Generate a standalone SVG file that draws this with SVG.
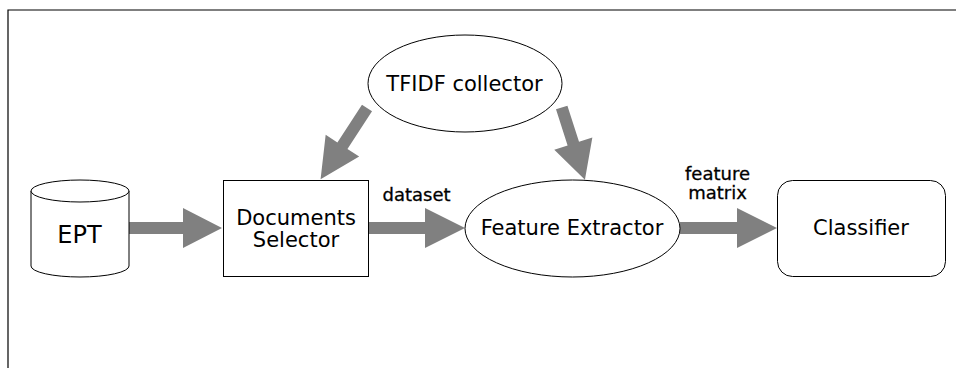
<svg xmlns="http://www.w3.org/2000/svg" width="956" height="368" viewBox="0 0 956 368">
  <style>
    .shape { fill: #ffffff; stroke: #000000; stroke-width: 1; }
    .frame { fill: none; stroke: #000000; stroke-width: 1.2; }
    .arrow { fill: #808080; stroke: none; }
    .label { font-family: "DejaVu Sans", Verdana, sans-serif; font-size: 21px; fill: #000000; text-anchor: middle; }
    .edge-label { font-family: "DejaVu Sans", Verdana, sans-serif; font-size: 18px; fill: #000000; text-anchor: middle; stroke: #000000; stroke-width: 0.3; }
  </style>
  <defs>
    <!-- block arrow pointing along +x: shaft 12 wide, head 40 wide and 40 long -->
    <path id="arrow85" d="M0,-6 H45 V-20 L85,0 L45,20 V6 H0 Z"/>
    <path id="arrow76" d="M0,-6 H38 V-20 L76,0 L38,20 V6 H0 Z"/>
  </defs>

  <rect x="0" y="0" width="956" height="368" fill="#ffffff"/>

  <!-- frame edges -->
  <path class="frame" d="M8,368 V10 H956"/>

  <!-- connectors -->
  <g id="connectors">
    <path class="arrow" d="M128,222 H183 V208 L222,228 L183,248 V234 H128 Z"/>
    <path class="arrow" d="M368,222 H425 V208 L465,228 L425,248 V234 H368 Z"/>
    <path class="arrow" d="M680,222 H737 V208 L777,228 L737,248 V234 H680 Z"/>
    <use class="arrow" href="#arrow85" transform="translate(367,108) rotate(123.1)"/>
    <use class="arrow" href="#arrow76" transform="translate(561.7,107.5) rotate(72.2)"/>
    <text class="edge-label" x="416.5" y="201">dataset</text>
    <text class="edge-label" x="717.5" y="180">feature</text>
    <text class="edge-label" x="717.5" y="198.5">matrix</text>
  </g>

  <!-- EPT data store -->
  <g id="ept">
    <path class="shape" d="M31,191 V266 A49,11 0 0 0 129,266 V191 A49,11 0 0 0 31,191 Z"/>
    <path class="shape" d="M31,191 A49,11 0 0 0 129,191" fill="none"/>
    <text class="label" x="79.5" y="243" style="font-size:24px">EPT</text>
  </g>

  <!-- Documents Selector -->
  <g id="documents-selector">
    <rect class="shape" x="223.5" y="180.5" width="145" height="96"/>
    <text class="label" x="296" y="225">Documents</text>
    <text class="label" x="296" y="247">Selector</text>
  </g>

  <!-- TFIDF collector -->
  <g id="tfidf-collector">
    <ellipse class="shape" cx="465" cy="83.5" rx="97" ry="48.5"/>
    <text class="label" x="464.5" y="91">TFIDF collector</text>
  </g>

  <!-- Feature Extractor -->
  <g id="feature-extractor">
    <ellipse class="shape" cx="572.5" cy="228.5" rx="107.5" ry="48.5"/>
    <text class="label" x="572" y="235">Feature Extractor</text>
  </g>

  <!-- Classifier -->
  <g id="classifier">
    <rect class="shape" x="777.5" y="180.5" width="168" height="96" rx="15" ry="15"/>
    <text class="label" x="861" y="235">Classifier</text>
  </g>
</svg>
